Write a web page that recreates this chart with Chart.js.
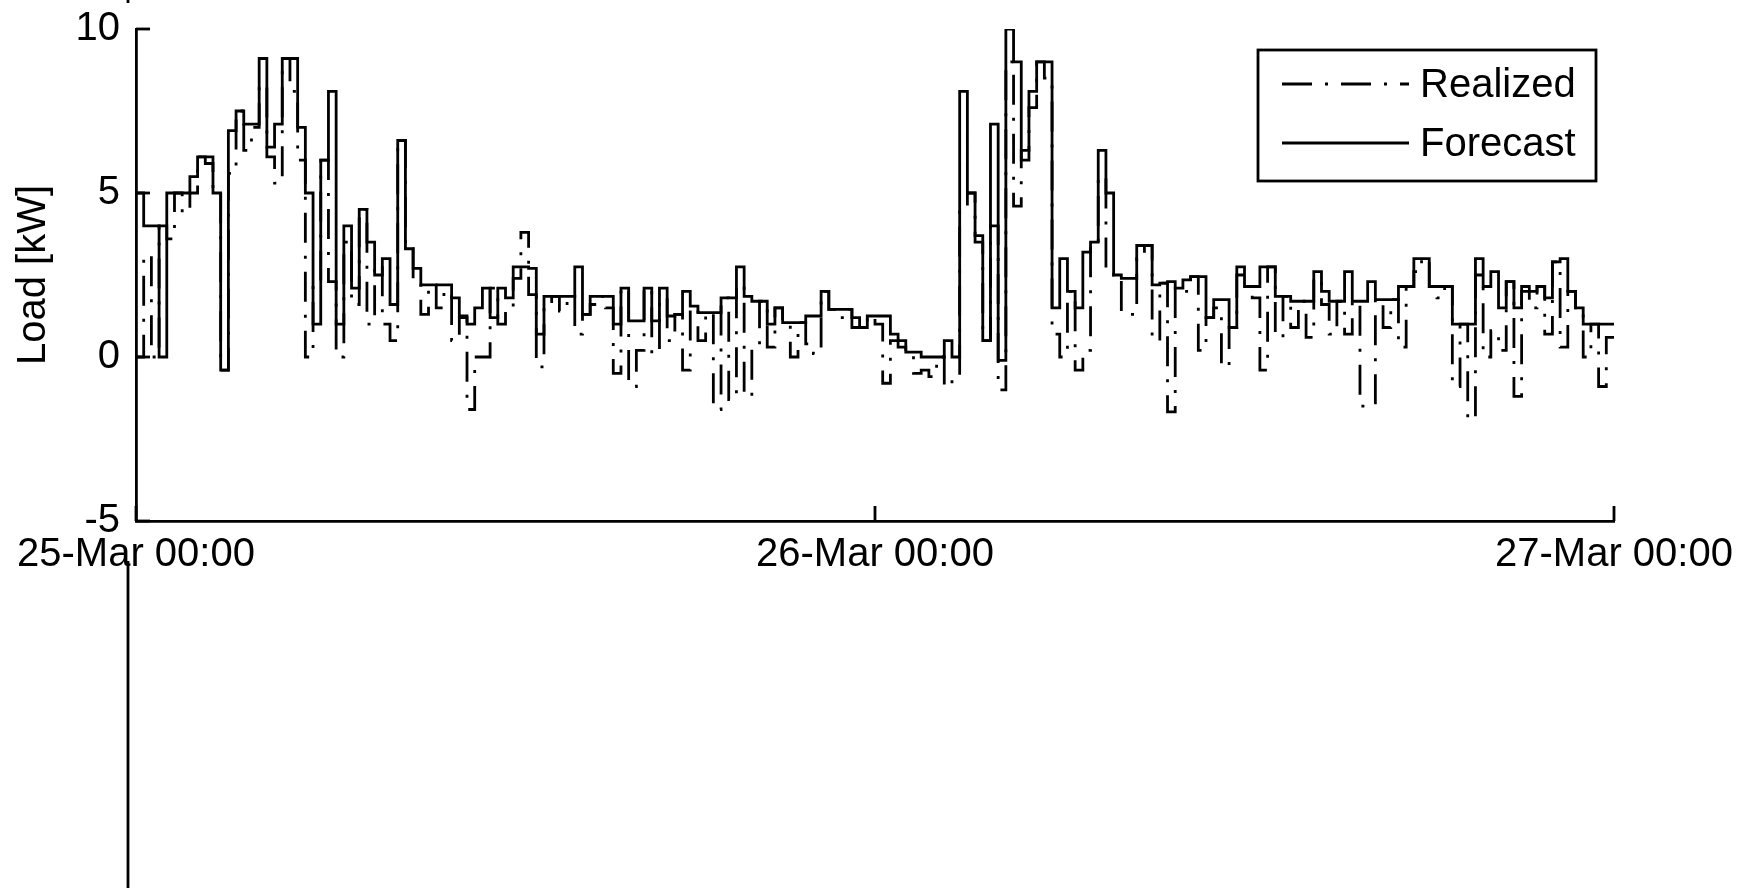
<!DOCTYPE html>
<html>
<head>
<meta charset="utf-8">
<title>Load</title>
<script src="https://cdn.jsdelivr.net/npm/chart.js@4/dist/chart.umd.min.js"></script>
<style>
  html, body { margin: 0; padding: 0; background: #fff; }
  #wrap { width: 1746px; height: 888px; }
</style>
</head>
<body>
<div id="wrap"><canvas id="chart" width="1746" height="888"></canvas></div>
<script>
// 15 minute steps from 25-Mar 00:00 to 27-Mar 00:00, values in kW
const stepHours = 0.25;
const dayTicks = [0, 24, 48];
const dayTickLabels = ['25-Mar 00:00', '26-Mar 00:00', '27-Mar 00:00'];
const loadTicks = [-5, 0, 5, 10];
const seriesNames = ['Realized', 'Forecast'];

const realized = [
    0, 3.1, 0, 4, 3.6, 5, 4.4, 5,
    6.1, 5.9, 5, -0.4, 5.6, 7.5, 6.3, 7.0,
    8.3, 6.1, 5.3, 9.1, 8.1, 6, 0, 2.3,
    6, 2.3, 0, 3.5, 1.6, 4.5, 1.0, 2.8,
    1.0, 0.5, 6.6, 3.3, 2.2, 1.3, 2.2, 1.5,
    2.0, 0.5, 1.2, -1.6, 0, 0, 2.1, 1.0,
    1.5, 2.4, 3.8, 1.9, -0.3, 1.6, 1.85, 1.4,
    1.85, 0.7, 1.3, 1.6, 1.85, 1.5, -0.5, 2.1,
    -0.9, 0.2, 2.1, 0.1, 1.8, 0.5, 1.3, -0.4,
    1.5, 0.5, 1.35, -1.6, 1.8, -1.3, 2.2, -1.2,
    0.3, 1.7, 0.3, 1.5, 1.0, 0, 1.05, 0.4,
    0.1, 2.0, 1.45, 1.2, 1.45, 0.9, 0.9, 1.25,
    1.0, -0.8, 0.5, 0.3, 0.15, -0.5, -0.4, -0.6,
    0, -0.9, -0.6, 4.6, 5, 3.5, 0.5, 4,
    -1.0, 9, 4.6, 6.3, 7.6, 9, 8.5, 0.7,
    0, 2.0, -0.4, 0.2, 3.5, 5.5, 2.6, 2.5,
    1.4, 1.3, 3.0, 3.4, 0.5, 2.25, -1.67, 2.1,
    2.0, 2.45, 0.2, 1.2, 1.5, -0.3, 0.9, 2.5,
    2.15, 1.8, -0.4, 2.75, 0.6, 1.85, 0.9, 1.7,
    0.6, 2.4, 1.6, 0.7, 1.7, 0.7, 1.7, -1.5,
    -1.4, 1.75, 0.9, 1.75, 0.3, 2.15, 2.6, 3.0,
    2.15, 1.8, 2.15, -0.9, 1.0, -1.9, 2.5, 0,
    0.8, 0.2, 2.3, -1.2, 2.0, 1.5, 2.15, 0.7,
    2.9, 0.3, 2.0, 1.5, 0, 1.0, -0.9, 0.6
];

const forecast = [
    5, 4, 4, 0, 5, 5, 5, 5.5,
    6.1, 6.1, 5, -0.4, 6.9, 7.5, 7.1, 7.1,
    9.1, 6.4, 7.1, 9.1, 9.1, 7, 5, 1,
    6, 8.1, 1, 4, 2.1, 4.5, 3.5, 2.5,
    3, 1.6, 6.6, 3.3, 2.7, 2.2, 2.2, 2.2,
    2.2, 1.8, 1.25, 1.0, 1.5, 2.1, 1.2, 2.1,
    1.8, 2.75, 2.75, 2.7, 0.7, 1.85, 1.85, 1.85,
    1.85, 2.75, 1.3, 1.85, 1.85, 1.85, 1.0, 2.1,
    1.1, 1.1, 2.1, 1.1, 2.1, 1.25, 1.3, 2.0,
    1.55, 1.35, 1.35, 1.35, 1.8, 1.8, 2.75, 1.85,
    1.7, 1.7, 1.0, 1.5, 1.05, 1.05, 1.05, 1.25,
    1.25, 2.0, 1.45, 1.45, 1.45, 1.2, 0.9, 1.25,
    1.25, 1.25, 0.7, 0.5, 0.15, 0.15, 0, 0,
    0, 0.5, 0, 8.1, 5, 3.7, 0.5, 7.1,
    -0.1, 10, 9, 6, 8.1, 9, 9, 1.5,
    3.0, 2.0, 1.5, 3.2, 3.5, 6.3, 5.0, 2.5,
    2.4, 2.4, 3.4, 3.4, 2.2, 2.25, 2.3, 2.1,
    2.35, 2.45, 2.45, 1.2, 1.75, 1.75, 0.9, 2.75,
    2.15, 2.15, 2.75, 2.75, 1.85, 1.85, 1.7, 1.7,
    1.7, 2.6, 2.0, 1.7, 1.7, 2.6, 1.7, 1.7,
    2.3, 1.75, 1.75, 1.75, 2.15, 2.15, 3.0, 3.0,
    2.15, 2.15, 2.15, 1.0, 1.0, 1.0, 3.0, 2.15,
    2.6, 1.5, 2.3, 1.5, 2.15, 2.0, 2.15, 1.8,
    2.9, 3.0, 2.0, 1.5, 1.0, 1.0, 1.0, 1.0
];

// stairs: each value holds for one step, last one is closed at the end of the range
const toPoints = arr => arr.concat([arr[arr.length - 1]]).map((v, i) => ({ x: i * stepHours, y: v }));

const font = { family: "'Liberation Sans', Arial, sans-serif", size: 40 };
Chart.defaults.color = '#000';
Chart.defaults.font.family = font.family;

const lineWidth = 2.8;

// matlab style: inward ticks, legend in a frame, and the stray axis line below
const paperPlugin = {
    id: 'paper',
    afterDraw(chart) {
        const { ctx, chartArea, scales } = chart;
        const line = (x1, y1, x2, y2) => {
            ctx.beginPath();
            ctx.moveTo(x1, y1);
            ctx.lineTo(x2, y2);
            ctx.stroke();
        };
        ctx.save();
        ctx.strokeStyle = '#000';
        ctx.lineWidth = lineWidth;
        ctx.setLineDash([]);

        dayTicks.forEach(v => {
            const px = scales.x.getPixelForValue(v);
            line(px, chartArea.bottom, px, chartArea.bottom - 15);
        });
        loadTicks.forEach(v => {
            const py = scales.y.getPixelForValue(v);
            line(chartArea.left, py, chartArea.left + 14, py);
        });

        // pieces of neighbouring axes that got into the crop
        line(chartArea.left - 8, chartArea.bottom + 40, chartArea.left - 8, chart.height);
        line(chartArea.left - 8, 0, chartArea.left - 8, 3);

        // legend
        const boxLeft = chartArea.right - 356;
        const boxTop = chartArea.top + 21;
        ctx.strokeRect(boxLeft, boxTop, 338, 131);
        ctx.font = `${font.size}px ${font.family}`;
        ctx.fillStyle = '#000';
        ctx.textBaseline = 'middle';
        ctx.textAlign = 'left';
        chart.data.datasets.forEach((ds, i) => {
            const rowY = boxTop + 34 + i * 59;
            ctx.setLineDash(ds.borderDash || []);
            line(boxLeft + 24, rowY, boxLeft + 151, rowY);
            ctx.setLineDash([]);
            ctx.fillText(ds.label, boxLeft + 162, rowY + 2);
        });
        ctx.restore();
    }
};

const ctx = document.getElementById('chart').getContext('2d');
new Chart(ctx, {
    type: 'line',
    data: {
        datasets: [{
            label: seriesNames[0],
            data: toPoints(realized),
            stepped: true,
            borderColor: '#000',
            borderWidth: lineWidth,
            borderDash: [30, 13, 3, 13],
            pointRadius: 0,
            fill: false
        }, {
            label: seriesNames[1],
            data: toPoints(forecast),
            stepped: true,
            borderColor: '#000',
            borderWidth: lineWidth,
            pointRadius: 0,
            fill: false
        }]
    },
    options: {
        responsive: false,
        animation: false,
        events: [],
        layout: { padding: { left: 0, top: 29, right: 132, bottom: 0 } },
        plugins: {
            legend: { display: false },
            tooltip: { enabled: false }
        },
        scales: {
            x: {
                type: 'linear',
                min: 0,
                max: 48,
                afterBuildTicks: scale => { scale.ticks = dayTicks.map(v => ({ value: v })); },
                afterFit: scale => {
                    scale.height = 367;
                    scale.paddingLeft = 0;
                    scale.paddingRight = 0;
                },
                ticks: {
                    autoSkip: false,
                    maxRotation: 0,
                    padding: 10,
                    color: '#000',
                    font: font,
                    callback: v => dayTickLabels[dayTicks.indexOf(v)]
                },
                grid: { display: false, drawTicks: false },
                border: { display: true, color: '#000', width: lineWidth }
            },
            y: {
                min: -5,
                max: 10,
                afterBuildTicks: scale => { scale.ticks = loadTicks.map(v => ({ value: v })); },
                afterFit: scale => {
                    scale.width = 136;
                    scale.paddingTop = 0;
                    scale.paddingBottom = 0;
                },
                ticks: { padding: 16, color: '#000', font: font },
                title: {
                    display: true,
                    text: 'Load [kW]',
                    color: '#000',
                    font: font,
                    padding: { top: 10, bottom: 0 }
                },
                grid: { display: false, drawTicks: false },
                border: { display: true, color: '#000', width: lineWidth }
            }
        }
    },
    plugins: [paperPlugin]
});
</script>
</body>
</html>
